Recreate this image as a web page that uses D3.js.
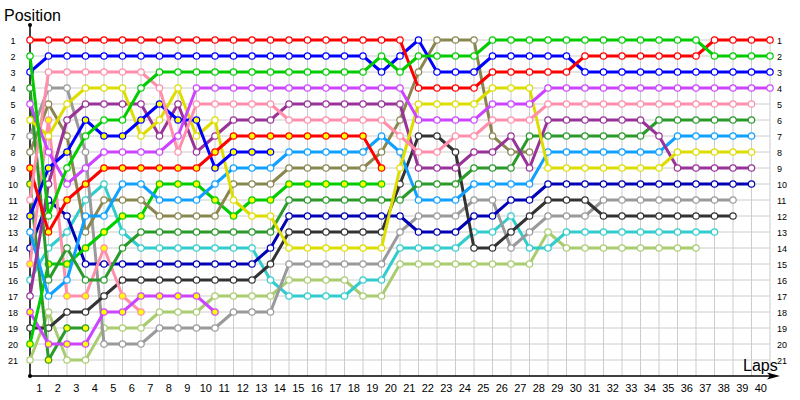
<!DOCTYPE html>
<html>
<head>
<meta charset="utf-8">
<script src="https://cdn.jsdelivr.net/npm/d3@7/dist/d3.min.js"></script>
<style>
  body { margin: 0; background: #fff; }
  svg { display: block; font-family: 'Liberation Sans', Arial, sans-serif; }
</style>
</head>
<body>
<script>
// running position of every car, index = lap (0 = grid)
let redA    = [1,1,1,1,1,1,1,1,1,1,1,1,1,1,1,1,1,1,1,1,1,4,4,4,4,3,3,3,3,3,2,2,2,2,2,2,2,1,1,1,1]
let greenA  = [2,12,9,7,6,6,4,3,3,3,3,3,3,3,3,3,3,3,3,2,3,2,2,2,2,1,1,1,1,1,1,1,1,1,1,1,1,2,2,2,2]
let blueA   = [3,2,2,2,2,2,2,2,2,2,2,2,2,2,2,2,2,2,2,3,2,1,3,3,3,2,2,2,2,2,3,3,3,3,3,3,3,3,3,3,3]
let violetA = [5,8,10,9,8,8,8,8,7,4,4,4,4,4,4,4,4,4,4,4,4,6,6,6,6,5,5,5,4,4,4,4,4,4,4,4,4,4,4,4,4]
let pinkA   = [11,3,3,3,3,3,3,4,8,5,5,5,5,5,6,6,6,6,6,6,7,8,8,7,7,6,6,6,5,5,5,5,5,5,5,5,5,5,5,5]
let dgreenA = [4,16,14,16,16,14,13,13,13,13,13,13,13,13,11,11,11,11,11,11,11,10,10,10,9,9,9,7,7,7,7,7,7,7,6,6,6,6,6,6]
let lblue   = [13,17,16,12,12,10,10,11,11,11,10,9,9,9,8,8,8,8,8,7,8,11,11,11,10,10,10,10,8,8,8,8,8,8,8,7,7,7,7,7]
let yellow  = [6,7,5,4,4,4,7,6,4,7,6,11,12,12,14,14,14,14,14,14,9,5,5,5,5,4,4,4,9,9,9,9,9,9,9,8,8,8,8,8]
let dpurple = [17,10,6,5,5,5,5,7,5,8,7,6,6,6,5,5,5,5,5,5,5,9,9,9,8,8,7,9,6,6,6,6,6,6,7,9,9,9,9,9]
let navy    = [14,11,12,15,15,15,15,15,15,15,15,15,15,14,12,12,12,12,12,12,12,13,13,13,12,12,11,11,10,10,10,10,10,10,10,10,10,10,10,10]
let gray    = [7,4,4,8,20,20,20,19,19,19,19,18,18,18,15,15,15,15,15,15,13,12,12,12,11,11,14,13,12,12,12,11,11,11,11,11,11,11,11]
let dgray   = [19,19,18,18,17,16,16,16,16,16,16,16,16,15,13,13,13,13,13,13,10,7,7,8,14,14,13,12,11,11,11,12,12,12,12,12,12,12,12]
let cyan    = [16,14,13,11,10,13,14,14,14,14,14,14,14,16,17,17,17,17,16,16,14,14,14,14,13,13,12,14,14,13,13,13,13,13,13,13,13,13]
let lgreen  = [21,18,21,21,19,19,19,18,18,18,17,17,17,17,16,16,16,16,17,17,15,15,15,15,15,15,15,15,13,14,14,14,14,14,14,14,14]
let olive   = [8,5,7,13,11,11,11,12,12,12,12,10,10,10,9,9,9,9,9,8,6,3,1,1,1,7,8,8]
let redB    = [9,13,11,10,9,9,9,9,9,9,8,7,7,7,7,7,7,7,7,9]
let greenB  = [20,15,15,14,13,12,12,10,10,10,11,12,11,11,10,10,10,10,10,10]
let blueB   = [12,9,8,6,7,7,6,5,6,6,9,8,8,8]
let violetB = [18,20,20,20,18,18,17,17,17,17,18]
let pinkB   = [15,6,17,17,14,17,18]
let dgreenB = [10,21,19,19]

let lapTicks = d3.range(1, 41)
let posTicks = d3.range(1, 22)

let teamColor = {
  red: '#ff0000', green: '#00cc00', blue: '#0000ff', violet: '#cc44ff',
  pink: '#ff8fab', dgreen: '#2a9a2a', lblue: '#10a0ff', yellow: '#dddd00',
  dpurple: '#993399', navy: '#0000b4', gray: '#9a9a9a', dgray: '#333333',
  cyan: '#33cccc', lgreen: '#a8cc70', olive: '#8a8650'
}

// first driver of a team has white markers, second one yellow
let cars = [
  { team: 'lgreen', second: false, pos: lgreen },
  { team: 'cyan', second: false, pos: cyan },
  { team: 'gray', second: false, pos: gray },
  { team: 'dgray', second: false, pos: dgray },
  { team: 'navy', second: false, pos: navy },
  { team: 'dgreen', second: true, pos: dgreenB },
  { team: 'pink', second: true, pos: pinkB },
  { team: 'violet', second: true, pos: violetB },
  { team: 'green', second: true, pos: greenB },
  { team: 'olive', second: false, pos: olive },
  { team: 'lblue', second: false, pos: lblue },
  { team: 'dgreen', second: false, pos: dgreenA },
  { team: 'dpurple', second: false, pos: dpurple },
  { team: 'yellow', second: false, pos: yellow },
  { team: 'blue', second: true, pos: blueB },
  { team: 'red', second: true, pos: redB },
  { team: 'pink', second: false, pos: pinkA },
  { team: 'violet', second: false, pos: violetA },
  { team: 'blue', second: false, pos: blueA },
  { team: 'red', second: false, pos: redA },
  { team: 'green', second: false, pos: greenA }
]

let width = 800, height = 400

let svg = d3.select('body').append('svg')
  .attr('width', width)
  .attr('height', height)

let x = d3.scaleLinear().domain([0, 40]).range([30, 770])
let y = d3.scaleLinear().domain([1, 22]).range([40, 376])

// grid
svg.append('g').selectAll('line')
  .data(lapTicks)
  .enter().append('line')
  .attr('x1', d => x(d)).attr('x2', d => x(d))
  .attr('y1', y(1) - 2).attr('y2', y(22))
  .attr('stroke', '#cccccc')

svg.append('g').selectAll('line')
  .data(posTicks)
  .enter().append('line')
  .attr('x1', x(0)).attr('x2', x(40))
  .attr('y1', d => y(d)).attr('y2', d => y(d))
  .attr('stroke', '#cccccc')

// axes
svg.append('line')
  .attr('x1', x(0)).attr('x2', x(0))
  .attr('y1', 25).attr('y2', y(22))
  .attr('stroke', '#000').attr('stroke-width', 1.5)
svg.append('circle').attr('cx', x(0)).attr('cy', 25).attr('r', 2)
svg.append('circle').attr('cx', x(0)).attr('cy', y(22)).attr('r', 2)
svg.append('line')
  .attr('x1', x(0)).attr('x2', 775)
  .attr('y1', y(22)).attr('y2', y(22))
  .attr('stroke', '#000').attr('stroke-width', 1.5)
svg.append('path')
  .attr('d', `M780,${y(22)} L767,${y(22) - 3.5} L770,${y(22)} L767,${y(22) + 3.5} Z`)
  .attr('fill', '#000')

svg.append('text').attr('x', 4).attr('y', 21)
  .attr('font-size', '16px').text('Position')
svg.append('text').attr('x', 743).attr('y', 371)
  .attr('font-size', '16px').text('Laps')

svg.append('g').selectAll('text')
  .data(posTicks)
  .enter().append('text')
  .attr('x', 13).attr('y', d => y(d) + 3.5)
  .attr('text-anchor', 'middle')
  .attr('font-size', '9px')
  .text(d => d)

svg.append('g').selectAll('text')
  .data(posTicks)
  .enter().append('text')
  .attr('x', 777).attr('y', d => y(d) + 3.5)
  .attr('font-size', '9px')
  .text(d => d)

svg.append('g').selectAll('text')
  .data(lapTicks)
  .enter().append('text')
  .attr('x', d => x(d - 0.5)).attr('y', 392)
  .attr('text-anchor', 'middle')
  .attr('font-size', '11px')
  .text(d => d)

// cars
let line = d3.line()
  .x((d, i) => x(i))
  .y(d => y(d))

let carG = svg.append('g').selectAll('g')
  .data(cars)
  .enter().append('g')

carG.append('path')
  .attr('d', d => line(d.pos))
  .attr('fill', 'none')
  .attr('stroke', d => teamColor[d.team])
  .attr('stroke-width', 3)
  .attr('stroke-linejoin', 'round')

carG.selectAll('circle')
  .data(d => d.pos.map((p, i) => ({ lap: i, p: p, car: d })))
  .enter().append('circle')
  .attr('cx', d => x(d.lap))
  .attr('cy', d => y(d.p))
  .attr('r', 3.2)
  .attr('fill', d => d.car.second ? '#ffff00' : '#ffffff')
  .attr('stroke', d => teamColor[d.car.team])
  .attr('stroke-width', 1.2)
</script>
</body>
</html>
